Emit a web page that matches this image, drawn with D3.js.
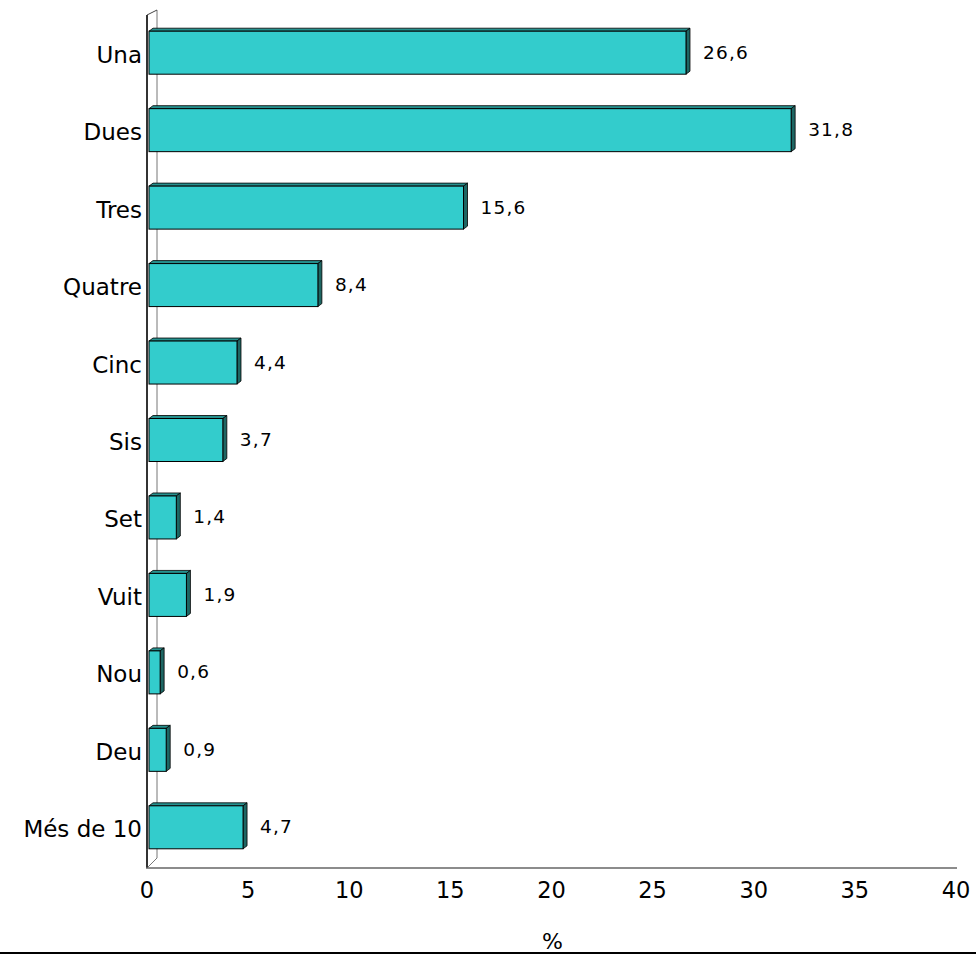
<!DOCTYPE html>
<html><head><meta charset="utf-8">
<script src="https://cdn.jsdelivr.net/npm/d3@7"></script>
<style>html,body{margin:0;padding:0;background:#fff;}svg{display:block;}</style>
</head><body>
<script>
const categories = ["Una","Dues","Tres","Quatre","Cinc","Sis","Set","Vuit","Nou","Deu","Més de 10"];
const values = [26.6,31.8,15.6,8.4,4.4,3.7,1.4,1.9,0.6,0.9,4.7];
const valueLabels = ["26,6","31,8","15,6","8,4","4,4","3,7","1,4","1,9","0,6","0,9","4,7"];
const xTicks = [0,5,10,15,20,25,30,35,40];
const axisTitle = "%";

const W = 976, H = 954;
const svg = d3.select("body").append("svg").attr("width", W).attr("height", H);
const font = "'DejaVu Sans', Verdana, sans-serif";

const x = d3.scaleLinear().domain([0, 40]).range([148, 957]);
const y = d3.scaleBand().domain(categories).range([14, 866]).paddingInner(0.445).paddingOuter(0.222);

const dx = 4, dy = 3;

// back wall and axes
const g = svg.append("g");
g.append("line").attr("x1", 157).attr("x2", 157).attr("y1", 10).attr("y2", 858).attr("stroke", "#777").attr("stroke-width", 1);
g.append("line").attr("x1", 147).attr("x2", 157).attr("y1", 15).attr("y2", 10).attr("stroke", "#444").attr("stroke-width", 1);
g.append("line").attr("x1", 147).attr("x2", 157).attr("y1", 868).attr("y2", 858).attr("stroke", "#777").attr("stroke-width", 1);
g.append("line").attr("x1", 147).attr("x2", 147).attr("y1", 15).attr("y2", 868).attr("stroke", "#333").attr("stroke-width", 2);
g.append("line").attr("x1", 146).attr("x2", x(40)).attr("y1", 868).attr("y2", 868).attr("stroke", "#666").attr("stroke-width", 1.5);

// bars
const bars = svg.append("g").selectAll("g").data(categories).join("g");
bars.each(function(c, i) {
  const sel = d3.select(this);
  const x0 = x(0) + 1, x1 = x(values[i]);
  const y0 = y(c), h = y.bandwidth();
  sel.append("polygon")
    .attr("points", [[x0, y0], [x0 + dx, y0 - dy], [x1 + dx, y0 - dy], [x1, y0]].map(p => p.join(",")).join(" "))
    .attr("fill", "#26918e").attr("stroke", "#000").attr("stroke-width", 0.8).attr("stroke-linejoin", "round");
  sel.append("polygon")
    .attr("points", [[x1, y0], [x1 + dx, y0 - dy], [x1 + dx, y0 + h - dy], [x1, y0 + h]].map(p => p.join(",")).join(" "))
    .attr("fill", "#1e6663").attr("stroke", "#000").attr("stroke-width", 0.8).attr("stroke-linejoin", "round");
  sel.append("rect").attr("x", x0).attr("y", y0).attr("width", x1 - x0).attr("height", h)
    .attr("fill", "#33CCCC").attr("stroke", "#000").attr("stroke-width", 1);
  sel.append("text").attr("x", x1 + 17).attr("y", y0 + h / 2 + 6)
    .attr("font-family", font).attr("font-size", 18.5).attr("letter-spacing", 1.2).attr("fill", "#000")
    .text(valueLabels[i]);
});

// category labels
svg.append("g").selectAll("text").data(categories).join("text")
  .attr("x", 142).attr("y", d => y(d) + y.bandwidth() / 2 + 10)
  .attr("text-anchor", "end").attr("font-family", font).attr("font-size", 23).attr("fill", "#000")
  .text(d => d);

// x tick labels
svg.append("g").selectAll("text").data(xTicks).join("text")
  .attr("x", d => x(d) - 1).attr("y", 898)
  .attr("text-anchor", "middle").attr("font-family", font).attr("font-size", 22.5).attr("fill", "#000")
  .text(d => d);

svg.append("text").attr("x", (x(0) + x(40)) / 2).attr("y", 949)
  .attr("text-anchor", "middle").attr("font-family", font).attr("font-size", 22).attr("fill", "#000")
  .text(axisTitle);

svg.append("line").attr("x1", 0).attr("x2", W).attr("y1", 953).attr("y2", 953).attr("stroke", "#000").attr("stroke-width", 2);
</script>
</body></html>
